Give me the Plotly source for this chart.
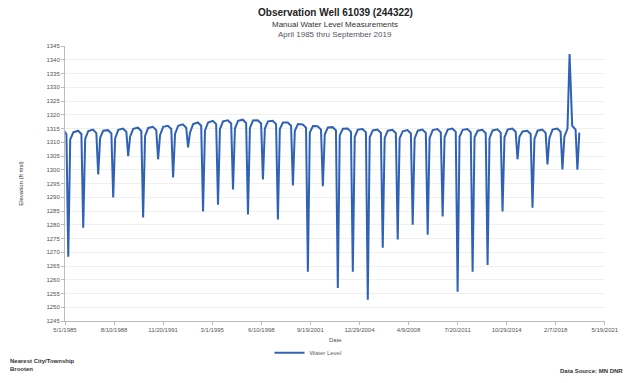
import plotly.graph_objects as go

# ---- data ----
years = list(range(1985, 2020))
spring = [1314.0,1314.2,1314.6,1314.4,1315.0,1315.3,1315.6,1316.0,1316.5,1317.2,1317.8,1318.0,1318.2,1318.0,1317.8,1317.2,1316.5,1315.8,1315.5,1315.0,1314.8,1314.6,1314.5,1314.4,1314.6,1314.8,1315.0,1314.8,1314.5,1314.7,1315.0,1314.2,1314.6,1315.0,1316.0]
june = [1312.9,1313.0,1313.3,1313.2,1313.8,1314.1,1314.4,1314.8,1315.3,1316.0,1316.6,1316.8,1317.0,1316.8,1316.6,1316.0,1315.3,1314.6,1314.3,1313.8,1313.6,1313.4,1313.3,1313.2,1313.4,1313.6,1313.8,1313.6,1313.3,1313.5,1313.8,1313.0,1313.4,1313.8,1314.6]
summer_low = [1268.4,1278.9,1298.3,1289.9,1304.9,1282.6,1303.8,1297.2,1308.1,1284.8,1287.3,1292.8,1283.7,1296.5,1281.9,1294.3,1262.9,1294.0,1257.0,1262.9,1252.7,1271.6,1274.6,1280.0,1276.4,1283.0,1255.6,1262.9,1265.4,1284.8,1303.8,1286.2,1301.9,1300.1,1300.0]
september = [1311.0,1311.2,1311.6,1311.4,1312.0,1312.3,1312.6,1313.0,1313.5,1314.2,1314.8,1315.0,1315.2,1315.0,1314.8,1314.2,1313.5,1312.8,1312.5,1312.0,1311.8,1311.6,1311.5,1311.4,1311.6,1311.8,1312.0,1311.8,1311.5,1311.7,1312.0,1311.2,1311.6,1312.0,1313.5]
november = [1313.6,1314.1,1314.2,1314.5,1314.9,1315.2,1315.6,1316.0,1316.6,1317.2,1317.6,1317.8,1317.9,1317.6,1317.2,1316.6,1315.9,1315.4,1314.9,1314.6,1314.3,1314.2,1314.0,1314.2,1314.4,1314.6,1314.5,1314.2,1314.3,1314.6,1313.9,1314.2,1314.6,1315.0,None]
season_days = ["03-15", "06-05", "07-20", "09-05", "11-20"]
first_day = "1985-04-15"
peak_date = "2019-01-10"
peak_value = 1342.1

y_ticks = list(range(1245, 1350, 5))

# ---- assemble series ----
dates, levels = [], []
for i, yr in enumerate(years):
    vals = [spring[i], june[i], summer_low[i], september[i], november[i]]
    for d, v in zip(season_days, vals):
        if v is None:
            continue
        ds = f"{yr}-{d}"
        if yr == 1985 and d == "03-15":
            ds = first_day
        if yr == 2019 and d == "03-15":
            dates.append(peak_date)
            levels.append(peak_value)
        dates.append(ds)
        levels.append(v)

font = "Liberation Sans"
fig = go.Figure()
fig.add_trace(go.Scatter(x=dates, y=levels, mode="lines", name="Water Level",
                         line=dict(color="#2f62b5", width=2)))

fig.update_layout(
    width=629, height=375,
    margin=dict(l=57, r=32, t=38, b=62),
    paper_bgcolor="white", plot_bgcolor="white",
    font=dict(family=font, size=6, color="#555"),
    showlegend=True,
    legend=dict(orientation="h", x=0.45, xanchor="center", y=-0.063, yanchor="top",
                font=dict(size=6, color="#666")),
    annotations=[
        dict(text="<b>Observation Well 61039 (244322)</b>", x=0.5, y=1, xref="paper", yref="paper",
             xanchor="center", yanchor="bottom", yshift=26, showarrow=False,
             font=dict(size=10, color="#222", family=font)),
        dict(text="Manual Water Level Measurements", x=0.5, y=1, xref="paper", yref="paper",
             xanchor="center", yanchor="bottom", yshift=15, showarrow=False,
             font=dict(size=8, color="#333", family=font)),
        dict(text="April 1985 thru September 2019", x=0.5, y=1, xref="paper", yref="paper",
             xanchor="center", yanchor="bottom", yshift=5, showarrow=False,
             font=dict(size=8, color="#556", family=font)),
        dict(text="Date", x=0.5, y=0, xref="paper", yref="paper", xanchor="center",
             yanchor="top", yshift=-14, showarrow=False, font=dict(size=6, color="#555")),
        dict(text="<b>Nearest City/Township</b><br><b>Brooten</b>", x=0, y=0, xref="paper", yref="paper",
             xanchor="left", yanchor="top", xshift=-57, yshift=-35, align="left", showarrow=False,
             font=dict(size=6, color="#333")),
        dict(text="<b>Data Source: MN DNR</b>", x=1, y=0, xref="paper", yref="paper",
             xanchor="right", yanchor="top", xshift=20, yshift=-45, showarrow=False,
             font=dict(size=6, color="#333")),
    ],
)
fig.update_xaxes(type="date", range=["1985-05-01", "2021-05-23"],
                 tick0="1985-05-01", dtick=1197 * 86400000, tickformat="%-m/%-d/%Y",
                 showline=True, linecolor="#bbb", linewidth=1, ticks="outside",
                 tickcolor="#bbb", ticklen=3, showgrid=False, zeroline=False,
                 tickfont=dict(size=6, color="#555"))
fig.update_yaxes(range=[1245, 1345], tickvals=y_ticks, showline=True, linecolor="#bbb",
                 linewidth=1, showgrid=True, gridcolor="#f0f0f0", zeroline=False,
                 ticks="outside", tickcolor="#bbb", ticklen=3,
                 title=dict(text="Elevation (ft msl)", font=dict(size=6, color="#333"), standoff=22),
                 tickfont=dict(size=6, color="#555"))

fig.write_html("out.html")
